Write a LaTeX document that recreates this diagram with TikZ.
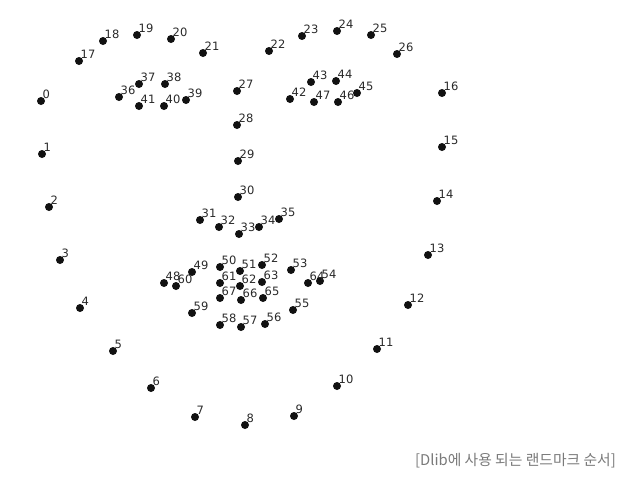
\documentclass[tikz,border=0pt]{standalone}
\usepackage{fontspec}
\setmainfont{DejaVu Sans}
\newfontfamily\krfont{Noto Sans CJK KR}
\usetikzlibrary{positioning,calc}
\definecolor{ink}    {HTML}{111111}
\definecolor{softink}{HTML}{7A7A7A}
\tikzset{
  % --- landmarks
  lm/.style  = {circle, fill=ink, draw=none, inner sep=0pt, minimum size=8pt},
  num/.style = {font=\fontsize{11.5}{13}\selectfont, text=ink!90, inner sep=0pt,
                anchor=base west},
  captxt/.style = {font=\krfont\fontsize{14.8}{17}\selectfont, text=softink, inner sep=0pt,
                anchor=east},
}
\begin{document}
\begin{tikzpicture}[x=1pt,y=-1pt]
  \useasboundingbox (0,0) rectangle (636,490);
  % jaw, brows, nose, eyes, mouth
  \foreach \i/\x/\y in {0/41/101, 1/42/154, 2/49/207, 3/60/260, 4/80/308, 5/113/351,
      6/151/388, 7/195/417, 8/245/425, 9/294/416, 10/337/386, 11/377/349,
      12/408/305, 13/428/255, 14/437/201, 15/442/147, 16/442/93,
      17/79/61, 18/103/41, 19/137/35, 20/171/39, 21/203/53,
      22/269/51, 23/302/36, 24/337/31, 25/371/35, 26/397/54,
      27/237/91, 28/237/125, 29/238/161, 30/238/197,
      31/200/220, 32/219/227, 33/239/234, 34/259/227, 35/279/219,
      36/119/97, 37/139/84, 38/165/84, 39/186/100, 40/164/106, 41/139/106,
      42/290/99, 43/311/82, 44/336/81, 45/357/93, 46/338/102, 47/314/102,
      48/164/283, 49/192/272, 50/220/267, 51/240/271, 52/262/265, 53/291/270,
      54/320/281, 55/293/310, 56/265/324, 57/241/327, 58/220/325, 59/192/313,
      60/176/286, 61/220/283, 62/240/286, 63/262/282, 64/308/283,
      65/263/298, 66/241/300, 67/220/298}{
    \node[lm] (p\i) at (\x,\y) {};
    \node[num] (n\i) at ($(p\i)+(1.5,-2.5)$) {\i};
  }
  \node[captxt] (caption) at (616,461) {[Dlib에 사용 되는 랜드마크 순서]};
\end{tikzpicture}
\end{document}
